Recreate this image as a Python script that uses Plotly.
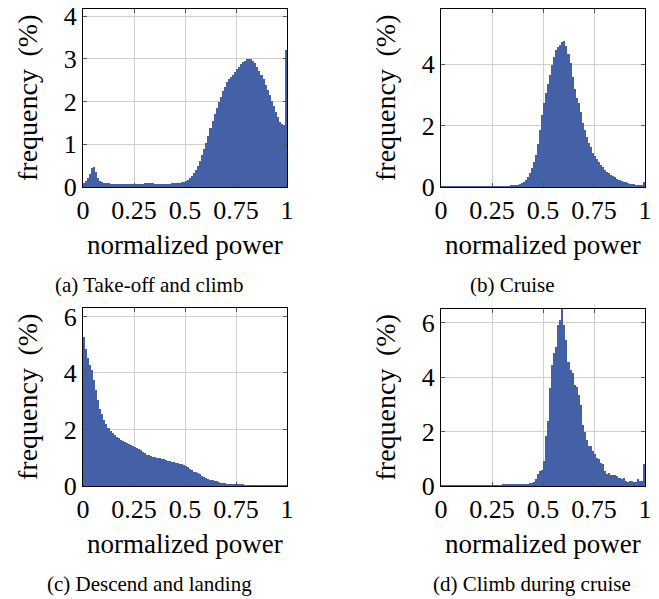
import numpy as np
import plotly.graph_objects as go

# histogram bins: 100 bins of normalized power from 0 to 1
bin_edges = np.linspace(0.0, 1.0, 101)
bin_centers = (bin_edges[:-1] + bin_edges[1:]) / 2

# frequency (%) per bin
takeoff_climb = [
    0.10, 0.13, 0.20, 0.30, 0.45, 0.47, 0.36, 0.22, 0.14, 0.11,
    0.10, 0.09, 0.09, 0.08, 0.08, 0.08, 0.08, 0.08, 0.08, 0.08,
    0.08, 0.08, 0.08, 0.08, 0.08, 0.08, 0.08, 0.08, 0.08, 0.08,
    0.09, 0.09, 0.09, 0.09, 0.09, 0.08, 0.08, 0.08, 0.08, 0.08,
    0.08, 0.08, 0.08, 0.09, 0.09, 0.09, 0.10, 0.10, 0.11, 0.12,
    0.14, 0.17, 0.21, 0.26, 0.32, 0.40, 0.50, 0.62, 0.75, 0.88,
    1.03, 1.20, 1.38, 1.55, 1.70, 1.85, 2.00, 2.12, 2.25, 2.35,
    2.45, 2.52, 2.58, 2.63, 2.70, 2.76, 2.82, 2.87, 2.92, 2.95,
    2.99, 3.01, 2.99, 2.95, 2.90, 2.82, 2.72, 2.62, 2.52, 2.40,
    2.28, 2.15, 2.02, 1.90, 1.76, 1.63, 1.52, 1.47, 1.46, 3.20,
]

cruise = [
    0.02, 0.02, 0.02, 0.02, 0.02, 0.02, 0.02, 0.02, 0.02, 0.02,
    0.02, 0.02, 0.02, 0.02, 0.02, 0.02, 0.02, 0.02, 0.02, 0.02,
    0.02, 0.02, 0.02, 0.02, 0.02, 0.02, 0.02, 0.02, 0.02, 0.02,
    0.02, 0.02, 0.03, 0.03, 0.04, 0.05, 0.06, 0.08, 0.10, 0.13,
    0.17, 0.22, 0.32, 0.45, 0.62, 0.82, 1.05, 1.40, 1.85, 2.35,
    2.75, 3.05, 3.35, 3.65, 3.98, 4.25, 4.45, 4.57, 4.62, 4.72,
    4.76, 4.60, 4.35, 4.05, 3.60, 3.20, 2.90, 2.75, 2.45, 2.10,
    1.85, 1.62, 1.45, 1.30, 1.12, 1.00, 0.90, 0.80, 0.72, 0.64,
    0.57, 0.50, 0.45, 0.40, 0.35, 0.31, 0.27, 0.23, 0.20, 0.17,
    0.15, 0.13, 0.11, 0.10, 0.09, 0.08, 0.07, 0.06, 0.06, 0.16,
]

descend_landing = [
    5.27, 4.86, 4.53, 4.27, 4.09, 3.74, 3.39, 3.04, 2.74, 2.56,
    2.33, 2.18, 2.06, 1.94, 1.86, 1.79, 1.74, 1.69, 1.64, 1.60,
    1.56, 1.52, 1.48, 1.44, 1.41, 1.39, 1.35, 1.31, 1.26, 1.21,
    1.16, 1.11, 1.09, 1.06, 1.04, 1.02, 1.00, 0.98, 0.96, 0.94,
    0.92, 0.90, 0.88, 0.86, 0.85, 0.83, 0.81, 0.79, 0.77, 0.74,
    0.70, 0.66, 0.61, 0.56, 0.51, 0.48, 0.45, 0.41, 0.37, 0.33,
    0.29, 0.26, 0.23, 0.21, 0.19, 0.17, 0.14, 0.12, 0.10, 0.09,
    0.08, 0.07, 0.06, 0.06, 0.05, 0.05, 0.04, 0.04, 0.04, 0.03,
    0.03, 0.03, 0.02, 0.02, 0.02, 0.02, 0.02, 0.02, 0.02, 0.01,
    0.01, 0.01, 0.01, 0.01, 0.01, 0.01, 0.01, 0.01, 0.01, 0.01,
]

climb_cruise = [
    0.02, 0.02, 0.02, 0.02, 0.02, 0.02, 0.02, 0.02, 0.02, 0.02,
    0.02, 0.02, 0.02, 0.02, 0.02, 0.02, 0.02, 0.02, 0.02, 0.02,
    0.02, 0.02, 0.02, 0.02, 0.02, 0.03, 0.03, 0.03, 0.03, 0.03,
    0.04, 0.04, 0.04, 0.05, 0.05, 0.05, 0.06, 0.06, 0.07, 0.06,
    0.06, 0.07, 0.08, 0.10, 0.12, 0.14, 0.24, 0.43, 0.55, 0.57,
    0.91, 1.82, 2.37, 3.59, 4.44, 4.87, 5.11, 5.90, 6.08, 6.50,
    5.90, 5.35, 4.56, 4.26, 4.14, 3.71, 3.65, 3.35, 2.98, 2.25,
    2.00, 1.70, 1.46, 1.46, 1.28, 1.16, 1.03, 1.00, 0.85, 0.79,
    0.55, 0.43, 0.46, 0.40, 0.40, 0.40, 0.37, 0.30, 0.24, 0.28,
    0.18, 0.16, 0.18, 0.18, 0.16, 0.16, 0.24, 0.18, 0.20, 0.79,
]

panels = [
    ("(a) Take-off and climb", takeoff_climb, 4.17, [0, 1, 2, 3, 4]),
    ("(b) Cruise", cruise, 5.8, [0, 2, 4]),
    ("(c) Descend and landing", descend_landing, 6.3, [0, 2, 4, 6]),
    ("(d) Climb during cruise", climb_cruise, 6.5, [0, 2, 4, 6]),
]

W, H = 659, 599
# plot areas in pixels: (left, right, top, bottom)
boxes = [(83, 287, 9, 187), (441, 645, 9, 187), (83, 287, 308, 486), (441, 645, 309, 486)]

bar_color = "#4461a8"
grid_color = "#cfcfcf"
font_family = "Liberation Serif, Times New Roman, serif"

fig = go.Figure()
annotations = []

for i, (caption, values, ymax, yticks) in enumerate(panels):
    n = i + 1
    xa = "x" if n == 1 else f"x{n}"
    ya = "y" if n == 1 else f"y{n}"
    l, r, t, b = boxes[i]

    fig.add_trace(go.Bar(
        x=bin_centers, y=values, width=0.01,
        marker=dict(color=bar_color, line=dict(width=0)),
        xaxis=xa, yaxis=ya, showlegend=False, hoverinfo="skip",
    ))

    axis_common = dict(
        showline=True, linecolor="black", linewidth=1, mirror="ticks",
        ticks="inside", ticklen=4, tickcolor="#555555",
        showgrid=True, gridcolor=grid_color, gridwidth=1,
        zeroline=False, automargin=False,
        tickfont=dict(family=font_family, size=26, color="black"),
    )
    fig.layout[f"xaxis{'' if n == 1 else n}"] = dict(
        axis_common,
        domain=[l / W, r / W], anchor=ya,
        range=[0, 1],
        tickvals=[0, 0.25, 0.5, 0.75, 1],
        ticktext=["0", "0.25", "0.5", "0.75", "1"],
    )
    fig.layout[f"yaxis{'' if n == 1 else n}"] = dict(
        axis_common,
        domain=[1 - b / H, 1 - t / H], anchor=xa,
        range=[0, ymax],
        tickvals=yticks,
        ticktext=[str(v) for v in yticks],
    )

    # axis titles and caption
    annotations.append(dict(
        text="frequency\u00a0\u2009(%)", textangle=-90,
        x=(l - 56) / W, y=1 - ((t + b) / 2) / H,
        xref="paper", yref="paper", showarrow=False,
        font=dict(family=font_family, size=28, color="black"),
        xanchor="center", yanchor="middle",
    ))
    annotations.append(dict(
        text="normalized power",
        x=((l + r) / 2) / W, y=1 - (b + 58) / H,
        xref="paper", yref="paper", showarrow=False,
        font=dict(family=font_family, size=27, color="black"),
        xanchor="center", yanchor="middle",
    ))
    cap_x = [149, 512, 149, 532][i]
    annotations.append(dict(
        text=caption,
        x=cap_x / W, y=1 - (b + 98) / H,
        xref="paper", yref="paper", showarrow=False,
        font=dict(family=font_family, size=21, color="black"),
        xanchor="center", yanchor="middle",
    ))

fig.update_layout(
    width=W, height=H,
    margin=dict(l=0, r=0, t=0, b=0),
    paper_bgcolor="white", plot_bgcolor="white",
    bargap=0,
    annotations=annotations,
)

# drop the page's default body margin so the figure sits at the window's corner
fig.write_html(
    "out.html",
    config={"displayModeBar": False},
    post_script="document.body.style.margin = '0';",
)
